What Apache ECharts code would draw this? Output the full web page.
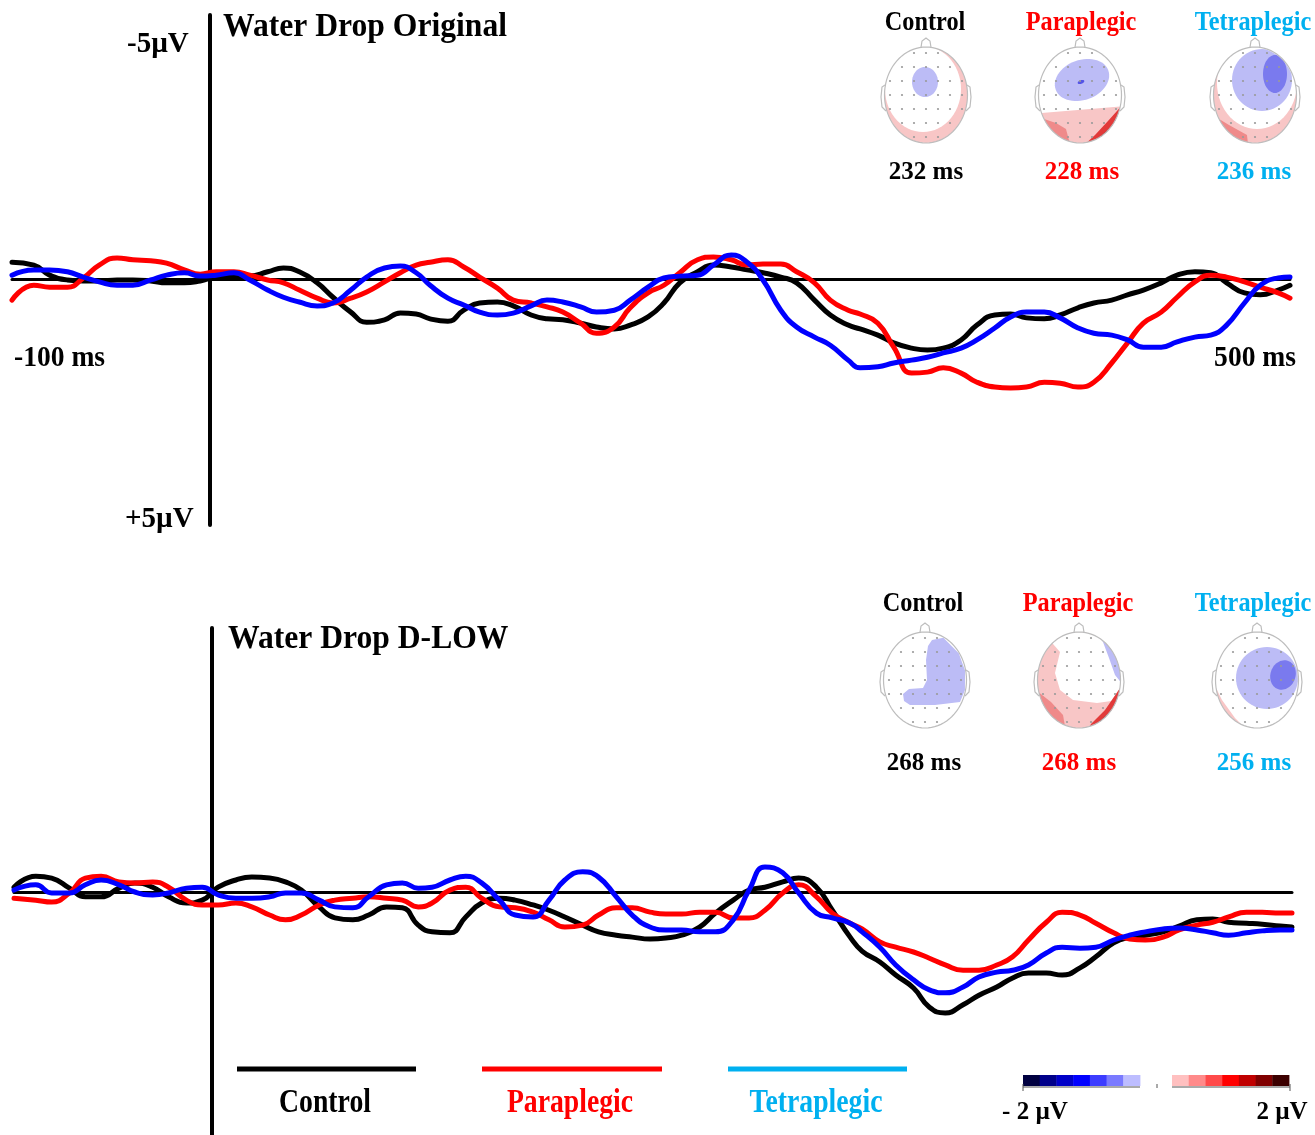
<!DOCTYPE html>
<html><head><meta charset="utf-8">
<script src="https://cdn.jsdelivr.net/npm/echarts@6/dist/echarts.min.js"></script>
<style>html,body{margin:0;padding:0;background:#fff}#c{width:1315px;height:1135px}</style>
</head><body><div id="c"></div><script>
// ---- data (time in ms, amplitude in µV; negative plotted upward) ----
const timesMs = [-100,-89,-81,-72,-64,-56,-47,-39,-30,-22,-13,-5,3,12,20,29,37,45,54,62,71,79,88,96,104,111,120,128,136,145,153,162,170,178,187,195,204,212,221,229,237,246,254,263,271,279,288,296,305,313,322,328,337,345,354,362,370,379,387,396,404,412,421,429,438,446,455,463,471,480,488,497,505,513,522,530,539,545];

const origControl = [-0.35,-0.29,-0.08,0.02,0.04,0.04,0.02,0.02,0.04,0.08,0.08,0.04,-0.04,-0.06,-0.06,-0.15,-0.23,-0.15,0.08,0.38,0.69,0.90,0.85,0.71,0.73,0.83,0.88,0.65,0.50,0.48,0.56,0.75,0.83,0.85,0.92,1.00,1.04,0.96,0.79,0.50,0.08,-0.15,-0.29,-0.25,-0.19,-0.13,-0.04,0.08,0.44,0.75,0.96,1.04,1.17,1.33,1.44,1.48,1.44,1.27,0.96,0.75,0.73,0.81,0.83,0.75,0.60,0.50,0.44,0.33,0.23,0.08,-0.08,-0.15,-0.13,0.08,0.29,0.33,0.23,0.13];
const origPara = [0.44,0.13,0.17,0.17,-0.02,-0.29,-0.44,-0.40,-0.38,-0.33,-0.19,-0.10,-0.15,-0.15,-0.08,0.02,0.08,0.23,0.40,0.50,0.40,0.27,0.06,-0.13,-0.29,-0.35,-0.40,-0.25,-0.04,0.19,0.44,0.50,0.58,0.69,0.92,1.13,1.00,0.60,0.29,0.13,-0.13,-0.40,-0.46,-0.40,-0.29,-0.31,-0.31,-0.15,0.08,0.44,0.65,0.73,0.92,1.42,1.96,1.94,1.85,1.96,2.15,2.25,2.27,2.25,2.15,2.17,2.25,2.15,1.75,1.33,0.92,0.69,0.38,0.06,-0.08,-0.04,0.06,0.17,0.29,0.40];
const origTetra = [-0.08,-0.19,-0.19,-0.15,-0.04,0.06,0.13,0.13,0.02,-0.08,-0.13,-0.06,-0.08,-0.13,0.02,0.23,0.38,0.48,0.56,0.50,0.23,-0.04,-0.23,-0.27,-0.13,0.13,0.40,0.54,0.69,0.75,0.71,0.56,0.44,0.48,0.58,0.69,0.65,0.44,0.17,-0.02,-0.06,-0.08,-0.29,-0.50,-0.35,0.02,0.65,1.00,1.21,1.38,1.69,1.85,1.83,1.75,1.69,1.63,1.54,1.44,1.27,1.02,0.79,0.69,0.69,0.81,1.02,1.13,1.17,1.27,1.42,1.42,1.31,1.21,1.17,0.96,0.50,0.13,-0.02,-0.04];

const dlowControl = [-0.10,-0.33,-0.29,-0.08,0.10,0.10,-0.08,-0.19,-0.10,0.10,0.23,0.17,-0.10,-0.25,-0.31,-0.29,-0.21,-0.04,0.31,0.54,0.58,0.48,0.31,0.33,0.69,0.83,0.85,0.52,0.23,0.13,0.17,0.27,0.38,0.52,0.69,0.83,0.90,0.94,0.98,0.96,0.90,0.73,0.44,0.17,-0.04,-0.10,-0.21,-0.29,-0.10,0.38,0.94,1.23,1.46,1.73,2.00,2.40,2.52,2.35,2.15,1.98,1.79,1.69,1.69,1.73,1.58,1.35,1.06,0.94,0.90,0.83,0.71,0.58,0.56,0.63,0.65,0.67,0.71,0.73];
const dlowPara = [0.13,0.17,0.21,0.02,-0.29,-0.33,-0.21,-0.19,-0.21,-0.10,0.17,0.27,0.27,0.23,0.31,0.48,0.58,0.48,0.27,0.17,0.13,0.10,0.13,0.17,0.31,0.23,-0.04,-0.10,0.13,0.31,0.33,0.42,0.58,0.73,0.69,0.48,0.33,0.33,0.42,0.46,0.46,0.42,0.42,0.54,0.54,0.38,0.02,-0.15,0.10,0.44,0.65,0.77,1.04,1.15,1.25,1.38,1.52,1.63,1.63,1.52,1.35,1.00,0.63,0.42,0.48,0.65,0.85,0.98,1.00,0.94,0.79,0.69,0.63,0.52,0.42,0.42,0.44,0.44];
const dlowTetra = [-0.04,-0.15,0.02,0.02,-0.15,-0.25,-0.15,0.00,0.06,0.02,-0.08,-0.10,0.06,0.13,0.13,0.10,0.02,0.02,0.17,0.31,0.33,0.10,-0.15,-0.19,-0.08,-0.10,-0.25,-0.33,-0.19,0.17,0.48,0.52,0.17,-0.25,-0.42,-0.31,0.10,0.48,0.73,0.79,0.79,0.83,0.83,0.58,-0.04,-0.52,-0.40,0.02,0.44,0.54,0.65,0.83,1.15,1.52,1.83,2.04,2.10,1.98,1.77,1.67,1.63,1.52,1.27,1.15,1.17,1.15,1.00,0.90,0.83,0.77,0.75,0.79,0.85,0.90,0.85,0.81,0.79,0.79];

const groupNames = ['Control', 'Paraplegic', 'Tetraplegic'];
const panelTitles = ['Water Drop Original', 'Water Drop D-LOW'];
const origLatency = ['232 ms', '228 ms', '236 ms'];
const dlowLatency = ['268 ms', '268 ms', '256 ms'];
const ampLabels = ['-5µV', '+5µV'];
const timeLabels = ['-100 ms', '500 ms'];
const scaleLabels = ['- 2 µV', '2 µV'];

// ---- styling ----
const lineColors = ['#000000', '#ff0000', '#0000ff'];
const labelColors = ['#000000', '#ff0000', '#00b0f0'];
const SERIF = '"Liberation Serif", "Times New Roman", serif';
const PALE_RED = '#f8c6c6', MID_RED = '#ef8a8a', RED = '#e23a3a', DARK_RED = '#6a0000';
const PALE_BLUE = '#bcbcf6', DARK_BLUE = '#7a7aee';

const chart = echarts.init(document.getElementById('c'), null, {renderer: 'canvas'});

function pairs(vals) { return timesMs.map((t, i) => [t, vals[i]]); }
const panels = [[origControl, origPara, origTetra], [dlowControl, dlowPara, dlowTetra]];
const series = [];
panels.forEach((set, p) => set.forEach((vals, g) => series.push({
  type: 'line', name: groupNames[g], xAxisIndex: p, yAxisIndex: p, data: pairs(vals),
  smooth: 0.5, symbol: 'none', showSymbol: false, silent: true, z: 3 + g,
  lineStyle: {color: lineColors[g], width: 5, cap: 'round', join: 'round'}
})));

// ---- helpers for graphic decorations ----
const G = [];
function txt(text, x, y, size, color, align, sx) {
  G.push({type: 'text', x: x, y: y, scaleX: sx || 1, silent: true, z: 10,
    style: {text: text, font: 'bold ' + size + 'px ' + SERIF, fill: color,
      align: align || 'left', textAlign: align || 'left', verticalAlign: 'middle', textVerticalAlign: 'middle'}});
}
function ellPts(cx, cy, rx, ry, rot, n) {
  n = n || 60; const r = (rot || 0) * Math.PI / 180; const pts = [];
  for (let i = 0; i < n; i++) { const a = 2 * Math.PI * i / n;
    const x = rx * Math.cos(a), y = ry * Math.sin(a);
    pts.push([cx + x * Math.cos(r) - y * Math.sin(r), cy + x * Math.sin(r) + y * Math.cos(r)]); }
  return pts;
}
function arc(h, d0, d1, n) { n = n || 24; const pts = [];
  for (let i = 0; i <= n; i++) { const a = (d0 + (d1 - d0) * i / n) * Math.PI / 180;
    pts.push([h.cx + h.rx * Math.cos(a), h.cy + h.ry * Math.sin(a)]); }
  return pts; }
function rel(h, pts) { return pts.map(p => [h.cx + p[0], h.cy + p[1]]); }
function clampIn(h, pts) { return pts.map(p => { const dx = (p[0] - h.cx) / h.rx, dy = (p[1] - h.cy) / h.ry;
  const r = Math.hypot(dx, dy); if (r <= 0.985) return p; const s = 0.985 / r;
  return [h.cx + dx * s * h.rx, h.cy + dy * s * h.ry]; }); }
function poly(pts, fill, z) { G.push({type: 'polygon', silent: true, z: z || 5, shape: {points: pts}, style: {fill: fill}}); }
function head(cx, cy, base, draw) {
  const h = {cx: cx, cy: cy, rx: 41.5, ry: 48};
  poly(ellPts(cx, cy, h.rx, h.ry, 0, 80), base, 5);
  draw(h);
  // electrode dots
  for (let i = -3; i <= 3; i++) for (let j = -3; j <= 3; j++) {
    const x = cx + i * 12, y = cy + j * 14;
    if (Math.hypot(i * 12 / h.rx, j * 14 / h.ry) < 0.93)
      G.push({type: 'circle', silent: true, z: 7, shape: {cx: x, cy: y, r: 1.1}, style: {fill: '#9a9a9a'}});
  }
  G.push({type: 'polygon', silent: true, z: 8, shape: {points: ellPts(cx, cy, h.rx, h.ry, 0, 80)},
    style: {fill: 'none', stroke: '#bdbdbd', lineWidth: 1.2}});
  const ln = {fill: 'none', stroke: '#bdbdbd', lineWidth: 1.2};
  G.push({type: 'polyline', silent: true, z: 8, shape: {points: rel(h, [[-5, -47.5], [-4, -54], [0, -57], [4, -54], [5, -47.5]])}, style: ln});
  G.push({type: 'polyline', silent: true, z: 8, shape: {points: rel(h, [[-41, -10], [-44, -8], [-45, 2], [-44, 12], [-40, 16]])}, style: ln});
  G.push({type: 'polyline', silent: true, z: 8, shape: {points: rel(h, [[41, -10], [44, -8], [45, 2], [44, 12], [40, 16]])}, style: ln});
}
function blob(h, cx, cy, rx, ry, rot, fill) { poly(clampIn(h, ellPts(cx, cy, rx, ry, rot, 60)), fill, 6); }

// ---- text ----
txt(panelTitles[0], 223, 27, 34, '#000', 'left', 0.93);
txt(panelTitles[1], 228, 639, 34, '#000', 'left', 0.93);
txt(ampLabels[0], 127, 45, 29, '#000', 'left', 1);
txt(ampLabels[1], 125, 520, 29, '#000', 'left', 1);
txt(timeLabels[0], 14, 359, 29, '#000', 'left', 0.95);
txt(timeLabels[1], 1296, 359, 29, '#000', 'right', 0.95);

const topoX1 = [925, 1081, 1253], topoX2 = [923, 1078, 1253];
groupNames.forEach((n, g) => {
  txt(n, topoX1[g], 23, 27, labelColors[g], 'center', 0.9);
  txt(origLatency[g], topoX1[g] + 1, 173, 25, labelColors[g], 'center', 1);
  txt(n, topoX2[g], 604, 27, labelColors[g], 'center', 0.9);
  txt(dlowLatency[g], topoX2[g] + 1, 764, 25, labelColors[g], 'center', 1);
});

// ---- topographic maps ----
head(926, 95, PALE_RED, h => {
  poly(ellPts(h.cx - 3, h.cy - 6, 38, 43, 0, 60), '#ffffff', 5);
  blob(h, 925, 82, 13, 15, 0, PALE_BLUE);
});
head(1080, 95, '#ffffff', h => {
  poly(arc(h, 158, 14), PALE_RED, 5);
  poly(arc(h, 150, 105).concat(rel(h, [[-14, 34], [-24, 28]])), MID_RED, 5);
  poly(arc(h, 80, 15).concat(rel(h, [[28, 26], [15, 40]])), RED, 5);
  poly(arc(h, 62, 30).concat(rel(h, [[31, 32]])), DARK_RED, 5);
  blob(h, 1082, 80, 28, 20, -20, PALE_BLUE);
  blob(h, 1081, 82, 3.5, 1.8, -20, '#5555e6');
});
head(1255, 95, PALE_RED, h => {
  poly(ellPts(h.cx + 2, h.cy - 12, 40, 46, 0, 60), '#ffffff', 5);
  poly(arc(h, 150, 100).concat(rel(h, [[-8, 40], [-26, 30]])), MID_RED, 5);
  blob(h, 1262, 80, 30, 31, 0, PALE_BLUE);
  blob(h, 1275, 74, 12, 19, 0, DARK_BLUE);
});
head(925, 680, '#ffffff', h => {
  poly(clampIn(h, rel(h, [[7, -40], [20, -46], [38, -30], [42, -10], [40, 10], [35, 22], [10, 25], [-15, 25],
    [-21, 21], [-22, 14], [-16, 9], [-2, 8], [2, 0], [1, -20], [3, -34]])), PALE_BLUE, 6);
});
head(1079, 680, PALE_RED, h => {
  poly(rel(h, [[-26, -36], [-19, -28], [-24, -7], [-19, 10], [-6, 20], [18, 23]]).concat(arc(h, 25, -130)), '#ffffff', 5);
  poly(arc(h, 165, 110).concat(rel(h, [[-16, 35], [-28, 22]])), MID_RED, 5);
  poly(arc(h, 75, 10).concat(rel(h, [[26, 30], [12, 44]])), RED, 5);
  poly(arc(h, 62, 28).concat(rel(h, [[31, 32]])), DARK_RED, 5);
  poly(arc(h, -58, 2).concat(rel(h, [[36, -5], [30, -22], [24, -38]])), PALE_BLUE, 6);
});
head(1257, 680, '#ffffff', h => {
  poly(arc(h, 170, 112).concat(rel(h, [[-22, 38], [-35, 20]])), PALE_RED, 5);
  blob(h, 1267, 678, 31, 31, 0, PALE_BLUE);
  blob(h, 1283, 675, 12.5, 15, 20, DARK_BLUE);
});

// ---- legend ----
const legendX = [[237, 416], [482, 662], [728, 907]];
const legendTextX = [325, 570, 816];
groupNames.forEach((n, g) => {
  G.push({type: 'line', silent: true, z: 10, shape: {x1: legendX[g][0], y1: 1069, x2: legendX[g][1], y2: 1069},
    style: {stroke: labelColors[g], lineWidth: 5}});
  txt(n, legendTextX[g], 1103, 33, labelColors[g], 'center', 0.84);
});

// ---- colour scale ----
const blueScale = ['#000040', '#00008a', '#0000c8', '#0000ff', '#3c3cff', '#7a7aff', '#bdbdff'];
const redScale = ['#ffc0c0', '#ff8a8a', '#ff4a4a', '#ff0000', '#c00000', '#800000', '#3c0000'];
const segW = 117 / 7;
blueScale.forEach((c, i) => G.push({type: 'rect', silent: true, z: 10,
  shape: {x: 1023 + i * segW, y: 1075, width: segW + 0.4, height: 11}, style: {fill: c}}));
redScale.forEach((c, i) => G.push({type: 'rect', silent: true, z: 10,
  shape: {x: 1172 + i * segW, y: 1075, width: segW + 0.4, height: 11}, style: {fill: c}}));
[[1023, 1087, 1140, 1087], [1172, 1087, 1290, 1087], [1023, 1084, 1023, 1091], [1290, 1084, 1290, 1091], [1157, 1084, 1157, 1088]]
  .forEach(l => G.push({type: 'line', silent: true, z: 10, shape: {x1: l[0], y1: l[1], x2: l[2], y2: l[3]},
    style: {stroke: '#555', lineWidth: 1}}));
txt(scaleLabels[0], 1035, 1113, 25, '#000', 'center', 1);
txt(scaleLabels[1], 1282, 1113, 25, '#000', 'center', 1);

// ---- axes ----
function xAx(i) { return {type: 'value', gridIndex: i, min: -100, max: 545,
  axisLine: {show: true, onZero: true, lineStyle: {color: '#000', width: 3}},
  axisTick: {show: false}, axisLabel: {show: false}, splitLine: {show: false}}; }
function yAx(i, max) { return {type: 'value', gridIndex: i, inverse: true, min: -5.5, max: max,
  axisLine: {show: true, onZero: true, lineStyle: {color: '#000', width: 4}},
  axisTick: {show: false}, axisLabel: {show: false}, splitLine: {show: false}}; }

chart.setOption({
  animation: false,
  backgroundColor: '#ffffff',
  grid: [{left: 12, top: 15, width: 1278, height: 510}, {left: 14, top: 628, width: 1278, height: 507}],
  xAxis: [xAx(0), xAx(1)],
  yAxis: [yAx(0, 5.125), yAx(1, 5.0625)],
  series: series,
  graphic: {elements: G}
});
</script></body></html>
